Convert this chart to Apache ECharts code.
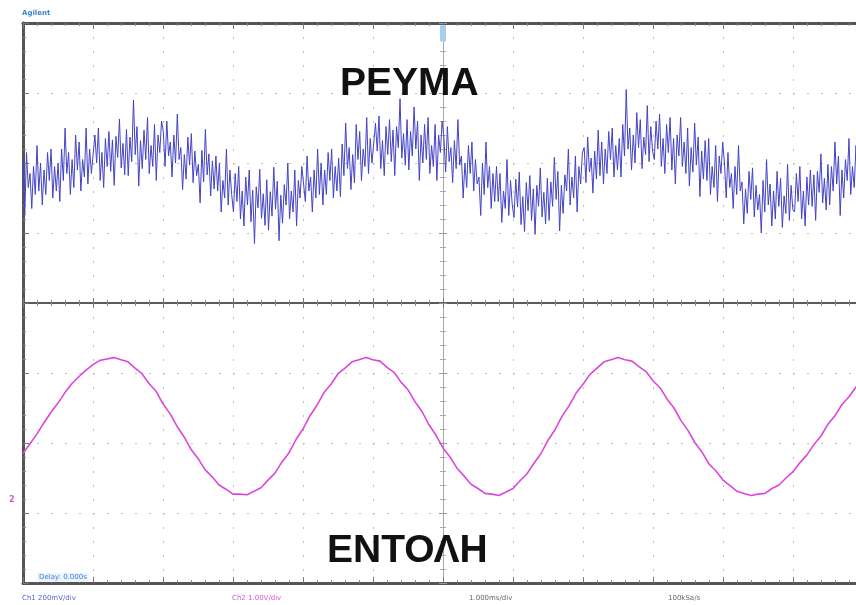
<!DOCTYPE html>
<html>
<head>
<meta charset="utf-8">
<script src="https://cdn.jsdelivr.net/npm/echarts@6/dist/echarts.min.js"></script>
<style>
  html, body { margin: 0; padding: 0; background: #fff; }
  #main { width: 856px; height: 605px; }
</style>
</head>
<body>
<div id="main"></div>
<script>
// screen: 12 x 8 divisions, values in divisions
var xMin = -6, xMax = 6, yMin = -4, yMax = 4;

// Ch1 (ΡΕΥΜΑ), noisy current trace
var ch1 = [
  2.00,1.25,2.15,1.65,1.85,1.35,1.95,1.55,2.25,1.60, 2.00,1.40,1.90,1.55,2.15,1.75,2.20,1.50,1.95,1.60,
  2.00,1.45,2.20,1.75,2.50,1.85,2.15,1.55,2.05,1.65, 2.40,1.90,2.30,1.60,2.05,1.80,2.50,1.70,2.20,1.85,
  1.85,2.40,2.00,2.50,1.75,2.15,1.65,2.35,1.95,2.45, 1.88,2.33,1.68,2.38,2.08,2.63,1.93,2.28,1.83,2.48,
  1.82,2.37,2.02,2.90,2.12,2.52,1.67,2.32,1.92,2.47, 2.05,2.65,1.85,2.25,1.95,2.55,1.75,2.40,2.15,2.60,
  2.45,1.95,2.60,2.10,2.30,1.80,2.40,2.00,2.70,2.05, 2.22,1.62,2.12,1.77,2.37,1.97,2.42,1.72,2.17,1.82,
  1.98,1.43,2.18,1.73,2.48,1.83,2.13,1.53,2.03,1.63, 2.10,1.60,2.00,1.30,1.75,1.50,2.20,1.40,1.90,1.55,
  1.30,1.85,1.45,1.95,1.20,1.60,1.10,1.80,1.40,1.90, 1.16,1.61,0.85,1.66,1.36,1.91,1.21,1.56,1.11,1.76,
  1.04,1.59,1.24,1.94,1.34,1.74,0.89,1.54,1.14,1.69, 1.40,2.00,1.20,1.60,1.30,1.90,1.10,1.75,1.50,1.95,
  1.95,1.45,2.10,1.60,1.80,1.30,1.90,1.50,2.20,1.55, 2.00,1.40,1.90,1.55,2.15,1.75,2.20,1.50,1.95,1.60,
  2.07,1.52,2.27,1.82,2.57,1.92,2.22,1.62,2.12,1.72, 2.55,2.05,2.45,1.75,2.20,1.95,2.65,1.85,2.35,2.00,
  2.02,2.57,2.17,2.67,1.92,2.32,1.82,2.52,2.12,2.62, 2.02,2.47,1.82,2.52,2.22,2.92,2.07,2.42,1.97,2.62,
  1.90,2.45,2.10,2.80,2.20,2.60,1.75,2.40,2.00,2.55, 2.05,2.65,1.85,2.25,1.95,2.55,1.75,2.40,2.15,2.60,
  2.37,1.87,2.52,2.02,2.22,1.72,2.32,1.92,2.62,1.97, 2.10,1.50,2.00,1.65,2.25,1.85,2.30,1.60,2.05,1.70,
  1.80,1.25,2.00,1.55,2.30,1.65,1.95,1.35,1.85,1.45, 1.95,1.45,1.85,1.15,1.60,1.35,2.05,1.25,1.75,1.40,
  1.22,1.77,1.37,1.87,1.12,1.52,1.02,1.72,1.32,1.82, 1.18,1.63,0.98,1.68,1.38,1.93,1.23,1.58,1.13,1.78,
  1.18,1.73,1.38,2.08,1.48,1.88,1.03,1.68,1.28,1.83, 1.60,2.20,1.40,1.80,1.50,2.10,1.30,1.95,1.70,2.15,
  2.22,1.72,2.37,1.87,2.07,1.57,2.17,1.77,2.47,1.82, 2.30,1.70,2.20,1.85,2.45,2.05,2.50,1.80,2.25,1.90,
  2.35,1.80,2.55,2.10,3.05,2.20,2.50,1.90,2.40,2.00, 2.72,2.22,2.62,1.92,2.37,2.12,2.82,2.02,2.52,2.17,
  2.05,2.60,2.20,2.70,1.95,2.35,1.85,2.55,2.15,2.65, 1.90,2.35,1.70,2.40,2.10,2.65,1.95,2.30,1.85,2.50,
  1.67,2.22,1.87,2.57,1.97,2.37,1.52,2.17,1.77,2.32, 1.75,2.35,1.55,1.95,1.65,2.25,1.45,2.10,1.85,2.30,
  2.00,1.50,2.15,1.65,1.85,1.35,1.95,1.55,2.25,1.60, 1.73,1.13,1.63,1.28,1.88,1.48,1.93,1.23,1.68,1.33,
  1.55,1.00,1.75,1.30,2.05,1.40,1.70,1.10,1.60,1.20, 1.88,1.38,1.78,1.08,1.53,1.28,1.98,1.18,1.68,1.33,
  1.30,1.85,1.45,1.95,1.20,1.60,1.10,1.80,1.40,1.90, 1.38,1.83,1.18,1.88,1.58,2.13,1.43,1.78,1.33,1.98,
  1.40,1.95,1.60,2.30,1.70,2.10,1.25,1.90,1.50,2.05, 1.75,2.35,1.55,1.95,1.65,2.25,1.45,2.10,1.85,2.30
];

// Ch2 (ΕΝΤΟΛΗ), command sine, one sample every 0.1 div
var ch2 = [
  -2.15,-2.01,-1.87,-1.71,-1.56,-1.43,-1.28,-1.15,-1.05,-0.96,
  -0.88,-0.82,-0.80,-0.78,-0.81,-0.84,-0.93,-1.01,-1.15,-1.26,
  -1.44,-1.58,-1.76,-1.91,-2.09,-2.22,-2.38,-2.48,-2.60,-2.66,
  -2.73,-2.73,-2.74,-2.69,-2.64,-2.53,-2.43,-2.27,-2.14,-1.95,
  -1.80,-1.61,-1.46,-1.28,-1.16,-1.01,-0.93,-0.84,-0.81,-0.78,
  -0.81,-0.83,-0.92,-0.99,-1.13,-1.24,-1.41,-1.55,-1.74,-1.89,
  -2.07,-2.20,-2.36,-2.47,-2.59,-2.65,-2.72,-2.73,-2.75,-2.70,
  -2.65,-2.54,-2.44,-2.29,-2.15,-1.96,-1.81,-1.62,-1.47,-1.29,
  -1.16,-1.02,-0.93,-0.84,-0.81,-0.78,-0.81,-0.83,-0.91,-0.98,
  -1.11,-1.21,-1.37,-1.50,-1.68,-1.82,-2.00,-2.13,-2.30,-2.40,
  -2.53,-2.61,-2.69,-2.72,-2.75,-2.73,-2.72,-2.65,-2.60,-2.50,
  -2.41,-2.28,-2.17,-2.02,-1.90,-1.73,-1.61,-1.45,-1.34,-1.20,
  -1.09
];

var ch1Index = ch1.map(function (v, i) { return i; });
var ch2Index = ch2.map(function (v, i) { return i; });

var chart = echarts.init(document.getElementById('main'), null, { renderer: 'canvas' });

var gridBox = { left: 23, right: -7, top: 23, bottom: 22, containLabel: false, outerBoundsMode: 'none' };

function frameAxis(gridIndex, position, min, max, opts) {
  var ax = {
    type: 'value',
    gridIndex: gridIndex,
    position: position,
    min: min,
    max: max,
    interval: 1,
    axisLabel: { show: false },
    axisLine: { show: true, onZero: false, lineStyle: { color: '#555', width: 3 } },
    axisTick: { show: true, inside: true, length: 6, lineStyle: { color: '#777', width: 1 } },
    minorTick: { show: true, splitNumber: 5, length: 3, lineStyle: { color: '#888', width: 1 } },
    splitLine: { show: false },
    minorSplitLine: { show: false }
  };
  return Object.assign(ax, opts || {});
}

var dots = { show: true, lineStyle: { color: '#bdbdbd', width: 1, type: [2, 12] } };

var centreX = {
  axisLine: { show: true, onZero: true, lineStyle: { color: '#5a5a5a', width: 2 } },
  axisTick: { show: true, inside: true, length: 5, lineStyle: { color: '#777' } },
  minorTick: { show: true, splitNumber: 5, length: 3, lineStyle: { color: '#888' } }
};
var centreY = {
  axisLine: { show: true, onZero: true, lineStyle: { color: '#a8a8a8', width: 1 } },
  axisTick: { show: true, inside: true, length: 4, lineStyle: { color: '#999' } },
  minorTick: { show: true, splitNumber: 5, length: 3, lineStyle: { color: '#aaa' } }
};

var big = { fontFamily: 'Liberation Sans', fontSize: 39, fontWeight: 'bold', color: '#111' };
function small(color) {
  return { fontFamily: 'DejaVu Sans', fontSize: 7, fontWeight: 'normal', color: color };
}

var option = {
  backgroundColor: '#fff',
  animation: false,
  title: [
    { text: 'ΡΕΥΜΑ', left: 340, top: 65, padding: 0, textStyle: big },
    { text: 'ΕΝΤΟΛΗ', left: 327, top: 532, padding: 0, textStyle: big },
    { text: 'Agilent', left: 22, top: 10, padding: 0,
      textStyle: { fontFamily: 'DejaVu Sans', fontSize: 7, fontWeight: 'bold', color: '#3b82d6' } },
    { text: 'Delay: 0.000s', left: 37, top: 573, padding: [1, 2], backgroundColor: '#eef4fc',
      textStyle: small('#3b82d6') },
    { text: 'Ch1 200mV/div', left: 22, top: 595, padding: 0, textStyle: small('#5566c8') },
    { text: 'Ch2 1.00V/div', left: 232, top: 595, padding: 0, textStyle: small('#d455d4') },
    { text: '1.000ms/div', left: 469, top: 595, padding: 0, textStyle: small('#666') },
    { text: '100kSa/s', left: 668, top: 595, padding: 0, textStyle: small('#666') },
    { text: '2', left: 9, top: 496, padding: 0,
      textStyle: { fontFamily: 'DejaVu Sans', fontSize: 8, color: '#d455d4' } }
  ],
  grid: [
    Object.assign({}, gridBox),
    Object.assign({}, gridBox),
    Object.assign({}, gridBox),
    Object.assign({}, gridBox)
  ],
  xAxis: [
    // frame
    frameAxis(0, 'bottom', xMin, xMax, { splitLine: dots }),
    frameAxis(0, 'top', xMin, xMax),
    // centre horizontal line, ticks up and down
    frameAxis(1, 'bottom', xMin, xMax, centreX),
    frameAxis(2, 'top', xMin, xMax, centreX),
    // traces
    { type: 'category', gridIndex: 3, position: 'bottom', data: ch1Index, boundaryGap: false, show: false },
    { type: 'category', gridIndex: 3, position: 'top', data: ch2Index, boundaryGap: false, show: false }
  ],
  yAxis: [
    frameAxis(0, 'left', yMin, yMax, { splitLine: dots }),
    // centre vertical line
    frameAxis(1, 'left', yMin, yMax, centreY),
    frameAxis(2, 'right', yMin, yMax, centreY),
    { type: 'value', gridIndex: 3, min: yMin, max: yMax, show: false }
  ],
  series: [
    {
      name: 'trigger',
      type: 'line',
      xAxisIndex: 0,
      yAxisIndex: 0,
      data: [],
      markPoint: {
        silent: true,
        label: { show: false },
        data: [
          { coord: [0, 3.85], symbol: 'rect', symbolSize: [6, 16], itemStyle: { color: '#a9cdef' } }
        ]
      }
    },
    {
      name: 'ΡΕΥΜΑ',
      type: 'line',
      xAxisIndex: 4,
      yAxisIndex: 3,
      data: ch1,
      showSymbol: false,
      lineStyle: { color: '#4343c6', width: 1 }
    },
    {
      name: 'ΕΝΤΟΛΗ',
      type: 'line',
      xAxisIndex: 5,
      yAxisIndex: 3,
      data: ch2,
      showSymbol: false,
      lineStyle: { color: '#dc46dc', width: 1.6 }
    }
  ]
};
chart.setOption(option);
</script>
</body>
</html>
